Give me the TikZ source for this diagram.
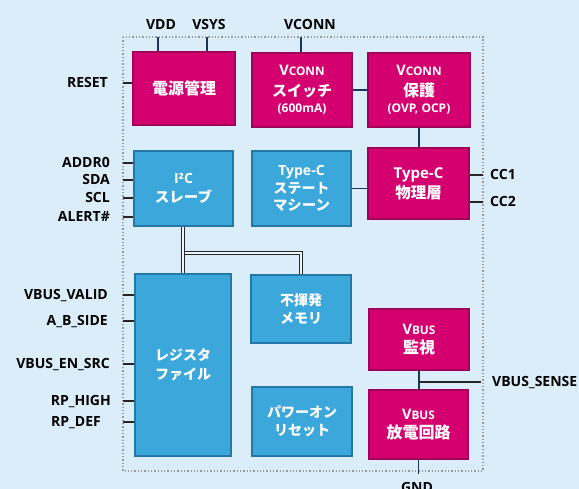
\documentclass[tikz,border=0pt]{standalone}
\usepackage{fontspec}
\setmainfont{Open Sans}
\newfontfamily\jp{Noto Sans CJK JP Bold}
\definecolor{bg}{HTML}{DAEDF8}
\definecolor{magf}{HTML}{D4006F}
\definecolor{magd}{HTML}{A0005A}
\definecolor{bluf}{HTML}{3BA7DB}
\definecolor{blud}{HTML}{2378A8}
\definecolor{navy}{HTML}{1B365D}
\newcommand\scV[1]{{\fontsize{14.5}{14}\selectfont V}{\fontsize{11.8}{14}\selectfont #1}}
\newcommand\jt[2]{{\jp\fontsize{#1}{#1}\selectfont #2}}
\tikzset{
  boxbase/.style={align=center, inner sep=0pt, text=white, line width=1.3pt,
    font=\bfseries\fontsize{14}{19}\selectfont},
  magbox/.style={boxbase, fill=magf, draw=magd},
  blubox/.style={boxbase, fill=bluf, draw=blud},
  lbl/.style={font=\bfseries\fontsize{14}{16}\selectfont, text=black, inner sep=0pt},
  wire/.style={draw=navy, line width=1.8pt},
  stub/.style={draw=black!85, line width=1.8pt},
  dbl/.style={draw=black!85, double=bg!50!white, double distance=1.1pt, line width=1pt},
}
\begin{document}
\begin{tikzpicture}[x=1pt, y=-1pt]
\useasboundingbox (0,0) rectangle (579,489);
\fill[bg] (0,0) rectangle (579,489);
\draw[gray!80, dotted, line width=1.3pt] (123,37) rectangle (483,471);

% boxes
\node[magbox, minimum width=102pt, minimum height=73pt] (pm) at (184,88.5) {\jt{16}{電源管理}};
\node[magbox, minimum width=100pt, minimum height=74pt] (vsw) at (302,90)
  {\scV{CONN}\\[2pt] \jt{15}{スイッチ}\\[-3pt] {\fontsize{12}{14}\selectfont (600mA)}};
\node[magbox, minimum width=102pt, minimum height=74pt] (vpr) at (419,90)
  {\scV{CONN}\\[2pt] \jt{16}{保護}\\[-3pt] {\fontsize{12}{14}\selectfont (OVP, OCP)}};
\node[blubox, minimum width=99pt, minimum height=75pt] (i2c) at (183.5,188.5)
  {I²C\\ \jt{14.5}{スレーブ}};
\node[blubox, minimum width=99pt, minimum height=75pt] (tsm) at (301.5,188.5)
  {Type-C\\[-1pt] \jt{14}{ステート}\\[-2pt] \jt{14.4}{マシーン}};
\node[magbox, minimum width=101pt, minimum height=71pt, font=\bfseries\fontsize{15}{20}\selectfont] (tph) at (418.5,183.5)
  {Type-C\\ \jt{15.5}{物理層}};
\node[blubox, minimum width=96pt, minimum height=182pt] (reg) at (183,365)
  {\jt{14}{レジスタ}\\ \jt{14}{ファイル}};
\node[blubox, minimum width=100pt, minimum height=68pt] (nvm) at (301,309)
  {\jt{14}{不揮発}\\[-1pt] \jt{14}{メモリ}};
\node[blubox, minimum width=100pt, minimum height=69pt] (por) at (302,421.5)
  {\jt{14}{パワーオン}\\[-1pt] \jt{14}{リセット}};
\node[magbox, minimum width=100pt, minimum height=61pt] (vmon) at (419,339.5)
  {\scV{BUS}\\ \jt{16}{監視}};
\node[magbox, minimum width=99pt, minimum height=69pt] (vdis) at (418.5,424.5)
  {\scV{BUS}\\ \jt{16}{放電回路}};

% top pins
\coordinate (pvdd) at (158,37);
\coordinate (pvsys) at (207,37);
\coordinate (pvconn) at (301,37);
\draw[wire] (pvdd) -- (pvdd |- pm.north);
\draw[wire] (pvsys) -- (pvsys |- pm.north);
\draw[wire] (pvconn) -- (pvconn |- vsw.north);
\node[lbl, anchor=base] (lvdd) at (161,29.5) {VDD};
\node[lbl, anchor=base] (lvsys) at (209,29.5) {VSYS};
\node[lbl, anchor=base] (lvconn) at (310,29.5) {VCONN};

% internal links
\draw[wire] (vsw.east) -- (vpr.west);
\draw[wire] (vpr.south) -- (vpr.south |- tph.north);
\draw[wire] (tsm.east) -- (tsm.east -| tph.west);
\draw[wire] (vmon.south) -- (vmon.south |- vdis.north);
\coordinate (jn) at (183,253);
\draw[dbl] (jn) -| (nvm.north);
\draw[dbl] (jn |- i2c.south) -- (jn |- reg.north);

% left pins
\coordinate (preset) at (123,83);
\draw[stub] (preset) -- (preset -| pm.west);
\node[lbl, anchor=base east] (lreset) at (108,88) {RESET};
\foreach \n/\yy/\t in {a/163/ADDR0, b/180/SDA, c/198/SCL, d/217/ALERT\#}{
  \coordinate (pi\n) at (123,\yy);
  \draw[stub] (pi\n) -- (pi\n -| i2c.west);
  \node[lbl, anchor=base east] (li\n) at (110,\yy+5) {\t};
}
\foreach \n/\yy/\xx/\t in {a/295/108/VBUS\_VALID, b/321/108/A\_B\_SIDE, c/364/110/VBUS\_EN\_SRC, d/401/111/RP\_HIGH}{
  \coordinate (pr\n) at (123,\yy);
  \draw[stub] (pr\n) -- (pr\n -| reg.west);
  \node[lbl, anchor=base east] (lr\n) at (\xx,\yy+5) {\t};
}
\coordinate (pre) at (123,422);
\draw[stub] (pre) -- (pre -| reg.west);
\node[lbl, anchor=base west] (lre) at (51,427) {RP\_DEF};

% right pins
\coordinate (pcc1) at (483,175);
\coordinate (pcc2) at (483,202);
\draw[stub] (pcc1 -| tph.east) -- (pcc1);
\draw[stub] (pcc2 -| tph.east) -- (pcc2);
\node[lbl, anchor=base west] (lcc1) at (490,180) {CC1};
\node[lbl, anchor=base west] (lcc2) at (490,207) {CC2};
\coordinate (psense) at (481,382);
\draw[stub] (vmon.south |- psense) -- (psense);
\node[lbl, anchor=base west] (lsense) at (492,387) {VBUS\_SENSE};

% bottom
\coordinate (pgnd) at (418,474);
\draw[wire] (vdis.south) -- (vdis.south |- pgnd);
\node[lbl, anchor=base] (lgnd) at (417,492) {GND};
\end{tikzpicture}
\end{document}
